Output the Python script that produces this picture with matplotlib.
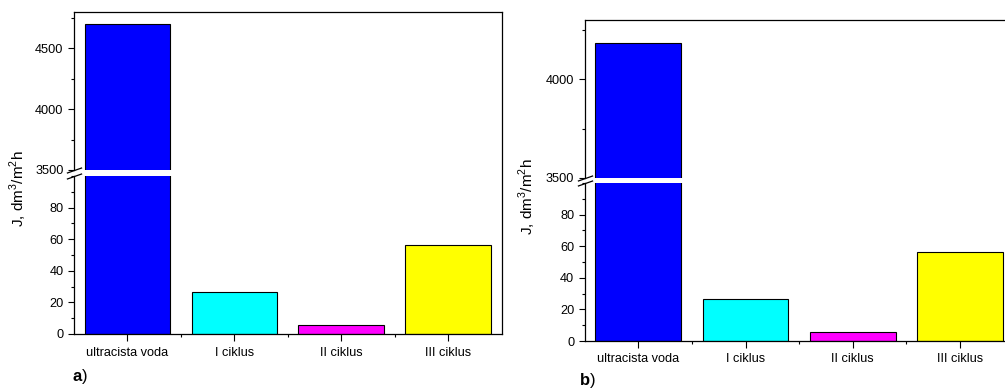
import numpy as np
import matplotlib.pyplot as plt
from matplotlib.ticker import MultipleLocator

plt.rcParams['font.family'] = ['Liberation Sans', 'DejaVu Sans']
plt.rcParams['mathtext.fontset'] = 'custom'
plt.rcParams['mathtext.rm'] = 'Liberation Sans'
plt.rcParams['mathtext.bf'] = 'Liberation Sans:bold'

categories = ["ultracista voda", "I ciklus", "II ciklus", "III ciklus"]
colors = ["#0000FF", "#00FFFF", "#FF00FF", "#FFFF00"]
flux_a = [4700, 26.5, 5.4, 56.5]
flux_b = [4185, 26.5, 5.4, 56.3]

W, H = 1005, 389
fig = plt.figure(figsize=(W / 100, H / 100), dpi=100)


def box(x0, x1, ytop, ybot):
    # pixel box -> figure fraction
    return [x0 / W, 1 - ybot / H, (x1 - x0) / W, (ybot - ytop) / H]


def panel(x0, x1, top, brk_up, brk_lo, bottom, values, up_lim, up_major, letter, lab_xy, let_xy):
    ax_up = fig.add_axes(box(x0, x1, top, brk_up))
    ax_lo = fig.add_axes(box(x0, x1, brk_lo, bottom))
    x = np.arange(len(categories))
    for ax in (ax_up, ax_lo):
        ax.bar(x, values, width=0.8, color=colors, edgecolor="black", linewidth=0.8)
        ax.set_xlim(-0.5, len(categories) - 0.5)
        ax.tick_params(which="both", direction="out", labelsize=9.2, right=False, top=False)
        ax.tick_params(which="major", length=4, width=0.8)
        ax.tick_params(which="minor", length=2.5, width=0.8)
        for s in ax.spines.values():
            s.set_linewidth(0.9)
        ax.spines["right"].set_visible(False)
    ax_up.set_ylim(*up_lim)
    ax_up.yaxis.set_major_locator(MultipleLocator(up_major))
    ax_up.yaxis.set_minor_locator(MultipleLocator(up_major / 2))
    ax_up.spines["bottom"].set_visible(False)
    ax_up.set_xticks([])
    ax_lo.set_ylim(0, 100)
    ax_lo.set_yticks([0, 20, 40, 60, 80])
    ax_lo.yaxis.set_minor_locator(MultipleLocator(10))
    ax_lo.spines["top"].set_visible(False)
    ax_lo.set_xticks(x)
    ax_lo.set_xticklabels(categories)
    ax_lo.set_xticks(x[:-1] + 0.5, minor=True)
    ax_lo.tick_params(axis="x", which="major", length=5, pad=4)

    # continuous right frame line
    ax_lo.plot([1, 1], [0, (bottom - top) / (bottom - brk_lo)], transform=ax_lo.transAxes,
               color="k", lw=0.9, clip_on=False, solid_capstyle="projecting")

    # break marks on the left axis
    mk = dict(marker=[(-1, -0.35), (1, 0.35)], markersize=11, linestyle="none",
              color="k", mec="k", mew=0.9, clip_on=False)
    ax_up.plot([0], [0], transform=ax_up.transAxes, **mk)
    ax_lo.plot([0], [1], transform=ax_lo.transAxes, **mk)

    fig.text(lab_xy[0] / W, 1 - lab_xy[1] / H, r"J, dm$^3$/m$^2$h", rotation=90,
             ha="center", va="center", fontsize=11)
    fig.text(let_xy[0] / W, 1 - let_xy[1] / H, r"$\mathbf{" + letter + "}$)",
             ha="left", va="center", fontsize=12)


panel(74, 501.5, 12, 170, 176, 334, flux_a, (3500, 4800), 500, "a", (18, 189), (72, 376))
panel(584.7, 1013.5, 20, 178, 183, 341, flux_b, (3500, 4300), 500, "b", (527, 197), (579, 381))

fig.savefig("out.png", dpi=100)
